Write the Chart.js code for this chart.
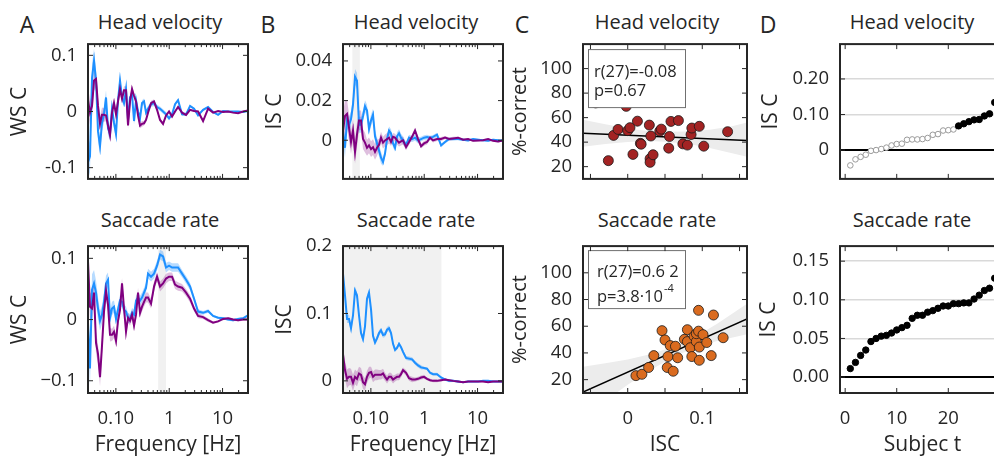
<!DOCTYPE html>
<html>
<head>
<meta charset="utf-8">
<script src="https://cdn.jsdelivr.net/npm/chart.js@4.4.1/dist/chart.umd.min.js"></script>
<style>
html, body { margin: 0; padding: 0; background: #fff; }
body { position: relative; width: 994px; height: 462px; overflow: hidden; font-family: "Open Sans", sans-serif; color: #262626; }
canvas { position: absolute; }
.lbl { position: absolute; white-space: nowrap; line-height: 1; transform: translate(-50%, -50%); }
.letter { font-size: 23px; }
.ptitle { font-size: 20px; }
</style>
</head>
<body>
<div class="lbl letter" style="left:27px;top:24px">A</div>
<div class="lbl letter" style="left:268px;top:24px">B</div>
<div class="lbl letter" style="left:522px;top:24px">C</div>
<div class="lbl letter" style="left:768px;top:24px">D</div>
<div class="lbl ptitle" style="left:160px;top:22px">Head velocity</div>
<div class="lbl ptitle" style="left:416px;top:22px">Head velocity</div>
<div class="lbl ptitle" style="left:657px;top:22px">Head velocity</div>
<div class="lbl ptitle" style="left:912px;top:22px">Head velocity</div>
<div class="lbl ptitle" style="left:160px;top:220px">Saccade rate</div>
<div class="lbl ptitle" style="left:416px;top:220px">Saccade rate</div>
<div class="lbl ptitle" style="left:657px;top:220px">Saccade rate</div>
<div class="lbl ptitle" style="left:912px;top:220px">Saccade rate</div>

<canvas id="aTop"></canvas>
<canvas id="aBot"></canvas>
<canvas id="bTop"></canvas>
<canvas id="bBot"></canvas>
<canvas id="cTop"></canvas>
<canvas id="cBot"></canvas>
<canvas id="dTop"></canvas>
<canvas id="dBot"></canvas>

<script>
// Frequencias (Hz), eixo log
const freqs = [0.030,0.0327,0.0357,0.0389,0.0424,0.0462,0.0504,0.0549,0.0599,0.0653,0.0712,0.0776,0.0846,0.0922,0.1006,0.1096,0.1195,0.1303,0.1421,0.1549,0.1689,0.1841,0.2008,0.2189,0.2386,0.2602,0.2836,0.3092,0.3371,0.3675,0.4007,
  0.4562,0.5193,0.5912,0.6731,0.7663,0.8723,0.993,1.130,1.287,1.465,
  1.740,2.070,2.459,2.923,3.474,
  4.314,5.353,6.643,8.246,10.24,12.70,15.76,19.56,24.28,30.0];

// A - WS C, head velocity
const wscHeadBlue = [-0.090,-0.080,0.060,0.090,0.055,-0.035,-0.062,-0.020,-0.005,0.025,-0.030,-0.040,0.005,-0.020,-0.040,0.020,0.055,0.025,0.015,0.040,-0.015,0.025,0.030,-0.017,0.020,0.000,-0.012,0.015,0.018,-0.002,0.005,
  0.013,0.015,0.008,0.005,0.000,-0.005,-0.012,-0.005,0.013,0.020,
  -0.005,-0.005,0.010,0.005,-0.007,
  0.003,0.008,-0.001,-0.006,0.001,0.000,0.000,0.000,-0.001,0.001];
const wscHeadBlueErr = [0.030,0.028,0.025,0.022,0.020,0.018,0.016,0.015,0.014,0.013,0.012,
  0.011,0.011,0.010,0.010,0.009,0.009,0.008,0.008,0.008,0.007,
  0.007,0.007,0.006,0.006,0.006,0.006,0.005,0.005,0.005,0.005,
  0.005,0.005,0.004,0.004,0.004,0.004,0.004,0.003,0.003,0.003,
  0.003,0.003,0.002,0.002,0.002,0.002,0.002,0.002,0.001,0.001,0.001,0.001,0.001,0.001,0.001];
const wscHeadPurple = [0.020,-0.002,0.010,0.055,0.058,0.010,-0.022,-0.006,-0.006,-0.007,-0.025,-0.042,-0.002,0.015,-0.005,0.018,0.040,0.023,0.038,0.038,-0.025,0.018,0.040,0.028,0.018,-0.007,-0.025,-0.022,-0.021,-0.015,-0.002,
  0.015,0.018,0.003,-0.015,-0.022,-0.007,0.000,-0.009,0.000,0.008,
  -0.002,-0.006,0.003,0.001,0.000,
  -0.017,0.005,-0.002,0.001,-0.001,0.000,-0.002,-0.003,0.000,0.002];
const wscHeadPurpleErr = [0.024,0.022,0.020,0.018,0.016,0.015,0.014,0.013,0.012,0.011,0.010,
  0.010,0.009,0.009,0.008,0.008,0.008,0.007,0.007,0.007,0.006,
  0.006,0.006,0.005,0.005,0.005,0.005,0.005,0.004,0.004,0.004,
  0.004,0.004,0.004,0.003,0.003,0.003,0.003,0.003,0.003,0.002,
  0.002,0.002,0.002,0.002,0.002,0.002,0.001,0.001,0.001,0.001,0.001,0.001,0.001,0.001,0.001];

// A - WS C, saccade rate
const wscSaccBlue = [-0.005,-0.080,0.049,0.059,0.044,0.018,-0.002,0.008,0.029,0.059,0.065,0.003,0.018,0.021,0.001,0.016,0.031,0.029,0.016,0.013,0.003,0.001,0.011,0.008,0.031,0.036,0.031,0.036,0.044,0.052,0.075,
  0.070,0.075,0.088,0.106,0.103,0.085,0.088,0.085,0.085,0.085,
  0.075,0.065,0.054,0.034,0.013,
  0.011,0.014,0.006,0.003,0.002,0.000,-0.001,0.001,0.002,0.007];
const wscSaccBlueErr = [0.030,0.028,0.025,0.022,0.020,0.018,0.016,0.015,0.014,0.013,0.012,
  0.011,0.011,0.010,0.010,0.010,0.009,0.009,0.009,0.008,0.008,
  0.008,0.008,0.008,0.008,0.008,0.008,0.008,0.008,0.008,0.008,
  0.008,0.008,0.008,0.008,0.008,0.008,0.007,0.007,0.007,0.007,
  0.006,0.006,0.006,0.005,0.004,0.003,0.003,0.002,0.002,0.002,0.002,0.002,0.002,0.002,0.002];
const wscSaccPurple = [0.095,0.021,0.018,0.044,-0.038,-0.056,-0.094,-0.043,0.013,0.047,0.024,-0.025,-0.025,-0.020,-0.035,-0.002,0.016,0.059,0.018,-0.020,0.003,-0.002,0.008,-0.010,0.008,0.044,0.011,0.021,0.029,0.036,0.036,
  0.026,0.054,0.070,0.054,0.059,0.067,0.070,0.070,0.057,0.054,
  0.052,0.044,0.034,0.018,0.006,
  0.004,-0.001,-0.005,-0.003,0.001,0.002,0.000,-0.001,0.000,0.000];
const wscSaccPurpleErr = [0.025,0.024,0.022,0.020,0.018,0.016,0.015,0.014,0.013,0.012,0.011,
  0.011,0.010,0.010,0.010,0.009,0.009,0.009,0.008,0.008,0.008,
  0.008,0.008,0.008,0.008,0.008,0.008,0.008,0.008,0.008,0.008,
  0.008,0.008,0.008,0.008,0.008,0.008,0.007,0.007,0.007,0.007,
  0.006,0.006,0.006,0.005,0.004,0.003,0.003,0.002,0.002,0.002,0.002,0.002,0.002,0.002,0.002];

// B - ISC, head velocity
const iscHeadBlue = [0.0042,-0.0038,0.010,0.0078,0.0107,0.018,0.032,0.030,0.0078,0.0078,0.0122,0.0172,0.015,0.0057,0.010,0.0129,0.002,-0.0016,-0.0052,-0.0088,-0.011,-0.0067,0.0006,0.0049,0.0035,-0.0016,-0.0038,0.002,0.0035,0.0013,-0.0001,
  -0.0023,0.0013,0.0006,0.0013,-0.0001,0.0006,0.0013,0.0016,0.0013,0.0017,
  0.0028,-0.0026,-0.0009,0.0006,0.0006,
  0.0006,0.0003,-0.0001,0.0006,0.0003,0,-0.0003,0.0003,0,-0.0001];
const iscHeadBlueErr = [0.005,0.005,0.004,0.004,0.004,0.004,0.004,0.004,0.004,0.004,0.003,
  0.003,0.003,0.003,0.003,0.003,0.003,0.003,0.003,0.003,0.002,
  0.002,0.002,0.002,0.002,0.002,0.002,0.002,0.002,0.002,0.002,
  0.0015,0.0015,0.0015,0.0015,0.0015,0.0012,0.0012,0.0012,0.001,0.001,
  0.001,0.001,0.0008,0.0008,0.0008,0.0006,0.0006,0.0005,0.0005,0.0005,0.0005,0.0005,0.0005,0.0005,0.0005];
const iscHeadPurple = [0.0049,0.0122,0.0133,0.0064,-0.0009,0.0049,-0.0059,0.0028,0.010,0.010,0.0006,-0.0012,-0.0038,-0.0026,-0.0045,-0.0035,-0.0059,-0.0038,-0.0023,0.0013,-0.0012,-0.0001,0.0006,0.0013,-0.0009,0.0017,0.0013,-0.0001,-0.0012,-0.0006,-0.0001,
  -0.0035,-0.0009,0.0017,0.0049,0.0006,-0.003,-0.0016,-0.0009,0.0013,-0.0001,
  0.0006,0.0006,0.0013,0.0006,0.0009,
  0.0013,0.0003,0.0006,-0.0003,-0.0001,0,0.0006,-0.0003,-0.0006,-0.0001];
const iscHeadPurpleErr = [0.009,0.008,0.007,0.007,0.006,0.006,0.006,0.006,0.005,0.005,0.005,
  0.005,0.004,0.004,0.004,0.004,0.004,0.004,0.003,0.003,0.003,
  0.003,0.003,0.003,0.002,0.002,0.002,0.002,0.002,0.002,0.002,
  0.0015,0.0015,0.0015,0.0015,0.0015,0.0012,0.0012,0.0012,0.001,0.001,
  0.001,0.001,0.0008,0.0008,0.0008,0.0006,0.0006,0.0005,0.0005,0.0005,0.0005,0.0005,0.0005,0.0005,0.0005];

// B - ISC, saccade rate
const iscSaccBlue = [0.159,0.127,0.092,0.092,0.078,0.097,0.134,0.127,0.097,0.071,0.062,0.081,0.122,0.131,0.106,0.067,0.057,0.063,0.071,0.075,0.068,0.069,0.076,0.078,0.071,0.055,0.046,0.049,0.055,0.050,0.043,
  0.034,0.033,0.032,0.027,0.023,0.020,0.019,0.018,0.012,0.010,
  0.010,0.005,0.002,0.000,0.000,
  -0.001,-0.002,-0.001,-0.001,-0.001,0.000,0.000,-0.001,-0.001,-0.001];
const iscSaccBlueErr = [0.008,0.007,0.006,0.006,0.006,0.006,0.006,0.005,0.005,0.005,0.005,
  0.005,0.005,0.005,0.005,0.004,0.004,0.004,0.004,0.004,0.004,
  0.004,0.004,0.004,0.004,0.004,0.003,0.003,0.003,0.003,0.003,
  0.003,0.003,0.003,0.003,0.003,0.003,0.002,0.002,0.002,0.002,
  0.002,0.002,0.002,0.002,0.0015,0.0015,0.001,0.001,0.001,0.001,0.001,0.001,0.001,0.001,0.001];
const iscSaccPurple = [0.039,0.016,0.003,0.006,0.006,-0.003,0.006,0.003,0.011,0.009,-0.002,-0.005,0.006,0.012,0.013,0.006,0.009,0.009,0.009,0.009,0.011,0.006,0.002,0.006,0.006,0.002,0.004,0.006,0.006,0.010,0.016,
  0.012,0.004,0.002,0.002,0.003,0.005,0.006,0.003,0.001,0.000,
  0.000,0.001,0.002,0.001,0.000,
  -0.001,-0.002,-0.001,-0.001,-0.001,-0.001,-0.002,-0.001,-0.001,-0.001];
const iscSaccPurpleErr = [0.014,0.014,0.014,0.013,0.012,0.012,0.011,0.011,0.010,0.010,0.010,
  0.009,0.009,0.009,0.008,0.008,0.008,0.008,0.007,0.007,0.007,
  0.006,0.006,0.006,0.006,0.006,0.005,0.005,0.005,0.005,0.004,
  0.004,0.004,0.004,0.003,0.003,0.003,0.003,0.002,0.002,0.002,
  0.002,0.002,0.002,0.0015,0.0015,0.0015,0.001,0.001,0.001,0.001,0.001,0.001,0.001,0.001,0.001];

// faixas cinzas (Hz)
const shadeWscSacc = [0.62, 0.87];
const shadeIscHead = [0.045, 0.062];
const shadeIscSacc = [0.03, 2.1];

// C / D - ISC por sujeito e %-correct
const subjects = [1,2,3,4,5,6,7,8,9,10,11,12,13,14,15,16,17,18,19,20,21,22,23,24,25,26,27,28,29];
const headIsc = [-0.043,-0.026,-0.019,-0.013,-0.002,0.000,0.003,0.007,0.013,0.017,0.018,0.029,0.030,0.030,0.031,0.034,0.043,0.045,0.055,0.056,0.058,0.068,0.074,0.080,0.085,0.086,0.096,0.102,0.134];
const headCorrect = [72.0,24.9,45.5,50.4,69.2,49.4,51.8,30.0,57.1,39.0,38.3,53.9,26.5,23.5,45.0,29.7,49.0,50.6,35.1,44.6,56.9,57.6,38.6,37.6,46.2,51.5,52.9,36.7,48.5];
const headSig = [0,0,0,0,0,0,0,0,0,0,0,0,0,0,0,0,0,0,0,0,0,1,1,1,1,1,1,1,1];
const saccIsc = [0.011,0.019,0.028,0.035,0.046,0.050,0.053,0.054,0.057,0.061,0.064,0.067,0.076,0.080,0.080,0.084,0.086,0.089,0.092,0.092,0.095,0.095,0.096,0.096,0.101,0.106,0.112,0.115,0.128];
const saccCorrect = [23.0,24.0,29.1,38.0,56.7,49.7,29.1,37.3,45.5,26.3,45.0,36.4,50.2,57.4,48.5,43.9,37.3,52.5,48.5,54.4,56.3,71.9,44.4,34.5,53.7,47.8,38.0,68.4,51.4];

// retas de regressao e IC
const fitX = [-0.06, 0.16];
const headFitY = [47.3, 41.4];
const saccFitY = [10.7, 65.4];
const headBandX = [-0.06,-0.03,0,0.03,0.05,0.08,0.11,0.14,0.16];
const headBandHi = [58.3,54.5,51.2,48.9,48.4,48.6,50.2,52.9,56.0];
const headBandLo = [36.3,38.5,40.2,40.9,40.4,38.6,35.2,30.9,28.0];
const saccBandX = [-0.06,-0.03,0,0.03,0.06,0.09,0.12,0.16];
const saccBandHi = [29.7,32.2,35.1,39.1,44.5,52.0,61.9,76.9];
const saccBandLo = [-8.3,4.2,16.1,27.1,36.5,44.0,48.9,53.9];

// ticks
const freqTicks = [0.1, 1, 10];
const freqTickLabels = ['0.10', '1', '10'];
const logMinor = [0.04,0.05,0.06,0.07,0.08,0.09,0.2,0.3,0.4,0.5,0.6,0.7,0.8,0.9,2,3,4,5,6,7,8,9,20,30];

const INK = '#262626';
const BLUE = '#1e90ff';
const PURPLE = '#800080';
const BLUE_BAND = 'rgba(30,144,255,0.32)';
const PURPLE_BAND = 'rgba(128,0,128,0.25)';
const TICK_SIZE = 18.5;
const TITLE_SIZE = 21;

Chart.defaults.font.family = '"Open Sans", sans-serif';
Chart.defaults.color = INK;

// Moldura, ticks internos e faixa cinza
const framePlugin = {
    id: 'frame',
    beforeDatasetsDraw(chart, args, opts) {
        if (!opts.shade) return;
        const {ctx, chartArea: a, scales: {x}} = chart;
        const x0 = Math.max(a.left, x.getPixelForValue(opts.shade[0]));
        const x1 = Math.min(a.right, x.getPixelForValue(opts.shade[1]));
        ctx.save();
        ctx.fillStyle = '#f1f1f1';
        ctx.fillRect(x0, a.top, x1 - x0, a.bottom - a.top);
        ctx.restore();
    },
    afterDraw(chart, args, opts) {
        const {ctx, chartArea: a, scales: {x, y}} = chart;
        ctx.save();
        ctx.strokeStyle = INK;
        ctx.lineWidth = 1;
        const tick = (px, py, dx, dy) => {
            ctx.beginPath(); ctx.moveTo(px, py); ctx.lineTo(px + dx, py + dy); ctx.stroke();
        };
        (opts.xTicks || []).forEach(v => {
            const p = x.getPixelForValue(v);
            tick(p, a.bottom, 0, -5); tick(p, a.top, 0, 5);
        });
        (opts.xMinor || []).forEach(v => {
            const p = x.getPixelForValue(v);
            if (p <= a.left || p >= a.right) return;
            tick(p, a.bottom, 0, -3); tick(p, a.top, 0, 3);
        });
        (opts.yTicks || []).forEach(v => {
            const p = y.getPixelForValue(v);
            tick(a.left, p, 5, 0); tick(a.right, p, -5, 0);
        });
        ctx.lineWidth = 2;
        ctx.strokeRect(a.left, a.top, a.right - a.left, a.bottom - a.top);
        ctx.restore();
    }
};

// Caixa com estatisticas (painel C)
const statPlugin = {
    id: 'stat',
    afterDatasetsDraw(chart, args, opts) {
        if (!opts.lines) return;
        const {ctx, chartArea: a} = chart;
        ctx.save();
        ctx.fillStyle = '#fff';
        ctx.strokeStyle = '#707070';
        ctx.lineWidth = 1;
        ctx.fillRect(a.left + 5.5, a.top + opts.boxTop + 0.5, 97, 58);
        ctx.strokeRect(a.left + 5.5, a.top + opts.boxTop + 0.5, 97, 58);
        ctx.fillStyle = INK;
        ctx.textBaseline = 'middle';
        opts.lines.forEach((ln, i) => {
            const ty = a.top + opts.lineY[i];
            ctx.font = '16.5px "Open Sans"';
            ctx.fillText(ln.text, a.left + opts.textX, ty);
            if (ln.sup) {
                const w = ctx.measureText(ln.text).width;
                ctx.font = '11px "Open Sans"';
                ctx.fillText(ln.sup, a.left + opts.textX + w + 1, ty - 8);
            }
        });
        ctx.restore();
    }
};

function placeCanvas(id, area, m) {
    const c = document.getElementById(id);
    c.width = m.l + (area.r - area.l) + m.r;
    c.height = m.t + (area.b - area.t) + m.b;
    c.style.left = (area.l - m.l) + 'px';
    c.style.top = (area.t - m.t) + 'px';
    return c;
}

function eixo(o) {
    return {
        type: o.type || 'linear',
        min: o.min,
        max: o.max,
        afterBuildTicks: s => { s.ticks = o.ticks.map(v => ({value: v})); },
        afterFit: s => { if (o.horizontal) s.height = o.size; else s.width = o.size; },
        grid: o.grid || {display: false, drawTicks: false},
        border: {display: false},
        ticks: {
            display: !!o.labels,
            callback: (v, i) => o.labels ? o.labels[i] : '',
            padding: o.horizontal ? 15 : 11,
            font: {size: TICK_SIZE},
            color: INK,
            maxRotation: 0,
            autoSkip: false
        },
        title: o.title
            ? {display: true, text: o.title, font: {size: o.titleSize || TITLE_SIZE}, color: INK, padding: 0}
            : {display: false}
    };
}

function specSets(vals, errs, color, band, order) {
    return [
        {data: freqs.map((f, i) => ({x: f, y: vals[i] + errs[i]})), borderColor: 'transparent', pointRadius: 0, fill: '+1', backgroundColor: band, order: order + 10},
        {data: freqs.map((f, i) => ({x: f, y: vals[i] - errs[i]})), borderColor: 'transparent', pointRadius: 0, fill: false, order: order + 10},
        {data: freqs.map((f, i) => ({x: f, y: vals[i]})), borderColor: color, borderWidth: 2, pointRadius: 0, fill: false, order: order}
    ];
}

function criarGrafico(id, area, m, datasets, scales, pluginOpts) {
    const canvas = placeCanvas(id, area, m);
    return new Chart(canvas, {
        type: 'line',
        data: {datasets},
        options: {
            responsive: false,
            animation: false,
            devicePixelRatio: 1,
            layout: {padding: {left: 0, top: m.t, right: m.r, bottom: 0}},
            plugins: Object.assign({legend: {display: false}, tooltip: {enabled: false}}, pluginOpts),
            scales
        },
        plugins: [framePlugin, statPlugin]
    });
}

function painelEspectro(id, area, m, blue, blueErr, purple, purpleErr, yr, yTicks, yLabels, yTitle, showX, shade) {
    const sets = specSets(blue, blueErr, BLUE, BLUE_BAND, 1).concat(specSets(purple, purpleErr, PURPLE, PURPLE_BAND, 0));
    criarGrafico(id, area, m, sets, {
        x: eixo({type: 'logarithmic', min: 0.03, max: 30, ticks: freqTicks, labels: showX ? freqTickLabels : null,
                 horizontal: true, size: m.b, title: showX ? 'Frequency [Hz]' : null}),
        y: eixo({min: yr[0], max: yr[1], ticks: yTicks, labels: yLabels, size: m.l, title: yTitle})
    }, {frame: {xTicks: freqTicks, xMinor: logMinor, yTicks, shade}});
}

function painelDispersao(id, area, m, isc, correct, fitY, bx, bHi, bLo, color, showX, stat) {
    const sets = [
        {data: bx.map((v, i) => ({x: v, y: bHi[i]})), borderColor: 'transparent', pointRadius: 0, fill: '+1', backgroundColor: '#ececec', order: 5},
        {data: bx.map((v, i) => ({x: v, y: bLo[i]})), borderColor: 'transparent', pointRadius: 0, fill: false, order: 5},
        {data: fitX.map((v, i) => ({x: v, y: fitY[i]})), borderColor: '#000', borderWidth: 1.5, pointRadius: 0, fill: false, order: 2},
        {data: isc.map((v, i) => ({x: v, y: correct[i]})), showLine: false, pointRadius: 5, pointBackgroundColor: color,
         pointBorderColor: '#1a1a1a', pointBorderWidth: 0.8, order: 1}
    ];
    const xt = [-0.05, 0, 0.05, 0.1, 0.15];
    const yt = [20, 40, 60, 80, 100];
    criarGrafico(id, area, m, sets, {
        x: eixo({min: -0.06, max: 0.16, ticks: xt, labels: showX ? ['', '0', '', '0.1', ''] : null,
                 horizontal: true, size: m.b, title: showX ? 'ISC' : null}),
        y: eixo({min: 10, max: 120, ticks: yt, labels: ['20', '40', '60', '80', '100'], size: m.l, title: '%-correct', titleSize: 20})
    }, {frame: {xTicks: xt, yTicks: yt}, stat});
}

function painelSujeitos(id, area, m, isc, sig, yr, yTicks, yLabels, showX) {
    const sets = [{
        data: subjects.map((s, i) => ({x: s, y: isc[i]})),
        showLine: false,
        pointRadius: sig.map(g => g ? 3.2 : 2.8),
        pointBackgroundColor: sig.map(g => g ? '#000' : '#fff'),
        pointBorderColor: sig.map(g => g ? '#000' : '#9a9a9a'),
        pointBorderWidth: 1
    }];
    const xt = [0, 10, 20, 30];
    criarGrafico(id, area, m, sets, {
        x: eixo({min: -1, max: 31, ticks: xt, labels: showX ? ['0', '10', '20', ''] : null,
                 horizontal: true, size: m.b, title: showX ? 'Subjec t' : null}),
        y: eixo({min: yr[0], max: yr[1], ticks: yTicks, labels: yLabels, size: m.l, title: 'IS C',
                 grid: {display: true, drawTicks: false,
                        color: c => c.tick.value === 0 ? '#000' : '#d9d9d9',
                        lineWidth: c => c.tick.value === 0 ? 2 : 1.5}})
    }, {frame: {xTicks: xt, yTicks}});
}

function init() {
    painelEspectro('aTop', {l: 88, t: 34, r: 248, b: 193}, {l: 81, t: 12, r: 12, b: 8},
        wscHeadBlue, wscHeadBlueErr, wscHeadPurple, wscHeadPurpleErr,
        [-0.12, 0.12], [-0.1, 0, 0.1], ['-0.1', '0', '0.1'], 'WS C', false, null);
    painelEspectro('aBot', {l: 88, t: 236, r: 248, b: 393}, {l: 81, t: 12, r: 12, b: 65},
        wscSaccBlue, wscSaccBlueErr, wscSaccPurple, wscSaccPurpleErr,
        [-0.12, 0.12], [-0.1, 0, 0.1], ['\u22120.1', '0', '0.1'], 'WS C', true, shadeWscSacc);
    painelEspectro('bTop', {l: 343, t: 34, r: 503, b: 193}, {l: 81, t: 12, r: 12, b: 8},
        iscHeadBlue, iscHeadBlueErr, iscHeadPurple, iscHeadPurpleErr,
        [-0.0195, 0.0485], [0, 0.02, 0.04], ['0', '0.02', '0.04'], 'IS C', false, shadeIscHead);
    painelEspectro('bBot', {l: 343, t: 236, r: 503, b: 393}, {l: 71, t: 12, r: 12, b: 65},
        iscSaccBlue, iscSaccBlueErr, iscSaccPurple, iscSaccPurpleErr,
        [-0.018, 0.2], [0, 0.1, 0.2], ['0', '0.1', '0.2'], 'ISC', true, shadeIscSacc);

    painelDispersao('cTop', {l: 583, t: 34, r: 747, b: 193}, {l: 75, t: 12, r: 12, b: 8},
        headIsc, headCorrect, headFitY, headBandX, headBandHi, headBandLo, '#a32323', false,
        {lines: [{text: 'r(27)=-0.08'}, {text: 'p=0.67'}], boxTop: 5, lineY: [28, 47], textX: 11});
    painelDispersao('cBot', {l: 583, t: 236, r: 747, b: 393}, {l: 75, t: 12, r: 12, b: 65},
        saccIsc, saccCorrect, saccFitY, saccBandX, saccBandHi, saccBandLo, '#da6b1f', true,
        {lines: [{text: 'r(27)=0.6 2'}, {text: 'p=3.8\u00b710', sup: '-4'}], boxTop: 4, lineY: [26, 51], textX: 14});

    painelSujeitos('dTop', {l: 840, t: 34, r: 1005, b: 193}, {l: 82, t: 12, r: 12, b: 8},
        headIsc, headSig, [-0.081, 0.298], [0, 0.1, 0.2], ['0', '0.10', '0.20'], false);
    painelSujeitos('dBot', {l: 840, t: 236, r: 1005, b: 393}, {l: 84, t: 12, r: 12, b: 65},
        saccIsc, subjects.map(() => 1), [-0.0206, 0.1695], [0, 0.05, 0.1, 0.15], ['0.00', '0.05', '0.10', '0.15'], true);
}

document.fonts.load('18px "Open Sans"').catch(() => null).finally(init);
</script>
</body>
</html>
